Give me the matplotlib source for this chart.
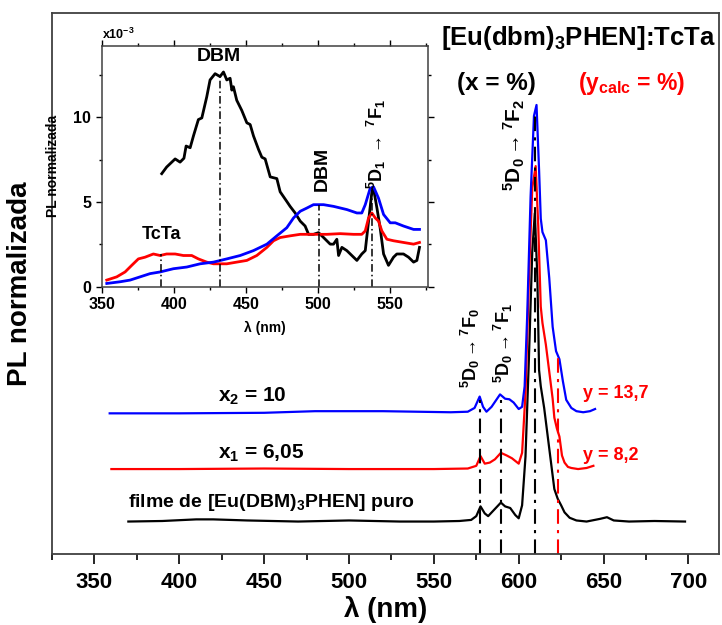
import numpy as np
import matplotlib
matplotlib.use("Agg")
from matplotlib import pyplot as plt
from matplotlib.ticker import MultipleLocator, NullLocator

plt.rcParams['font.family'] = ['Liberation Sans', 'DejaVu Sans']
plt.rcParams['font.weight'] = 'bold'
plt.rcParams['mathtext.fontset'] = 'custom'
plt.rcParams['mathtext.rm'] = 'Liberation Sans:bold'
plt.rcParams['mathtext.it'] = 'Liberation Sans:bold'
plt.rcParams['mathtext.bf'] = 'Liberation Sans:bold'
plt.rcParams['mathtext.default'] = 'rm'

# ---- main spectra (normalized, relative to each baseline) ----
wl_puro = [370, 390, 410, 420, 440, 470, 500, 530, 550, 565, 572, 575, 577.5, 580,
           582, 585, 589.5, 592, 595, 598, 600, 602, 604, 606, 608, 609.5, 611, 612,
           613, 615, 617, 619, 621, 623, 625, 627, 630, 634, 640, 648, 652, 656,
           665, 680, 698]
pl_puro = [0.0, 0.01, 0.04, 0.04, 0.02, 0.0, 0.02, 0.0, 0.0, 0.01, 0.03, 0.1, 0.28, 0.15,
           0.1, 0.2, 0.35, 0.28, 0.25, 0.12, 0.06, 0.3, 1.2, 3.0, 5.0, 5.7, 4.5, 2.8,
           2.5, 2.1, 1.6, 1.1, 0.6, 0.42, 0.3, 0.17, 0.07, 0.02, 0.0, 0.05, 0.08, 0.02,
           0.0, 0.01, 0.0]

wl_x1 = [360, 400, 450, 500, 550, 570, 575, 577.5, 580, 583, 586, 589.5, 593, 596,
         600, 602, 604, 606, 608, 610, 611.5, 613, 614, 616, 618, 620, 621, 622.5,
         624, 625.5, 627, 629, 631, 635, 640, 644]
pl_x1 = [0.0, 0.0, 0.01, 0.0, 0.0, 0.01, 0.06, 0.24, 0.1, 0.12, 0.18, 0.3, 0.25, 0.2,
         0.1, 0.3, 1.4, 3.5, 5.2, 5.6, 4.5, 3.0, 2.7, 2.3, 1.8, 1.3, 0.95, 0.75,
         0.6, 0.25, 0.12, 0.04, 0.02, 0.0, 0.02, 0.06]

wl_x2 = [359, 400, 450, 480, 520, 560, 570, 574, 577, 579, 581, 584, 589, 592, 594.5,
         597, 600, 602, 603.5, 605, 607, 609, 610.5, 612, 613, 614, 616, 618, 620,
         622, 624, 626, 628, 631, 634, 638, 642, 645]
pl_x2 = [0.0, 0.0, 0.01, 0.04, 0.04, 0.02, 0.03, 0.1, 0.31, 0.12, 0.03, 0.12, 0.35, 0.27,
         0.26, 0.2, 0.08, 0.12, 0.5, 1.8, 4.0, 5.5, 5.7, 4.5, 3.6, 3.35, 3.2, 2.5, 1.6,
         1.15, 1.0, 0.6, 0.25, 0.1, 0.04, 0.02, 0.04, 0.08]

offsets = [0.6, 1.57, 2.6]

# transition markers in the main panel: (wavelength, top, colour)
marks = [(577, 2.85, 'black'), (589.5, 2.85, 'black'),
         (609.5, 8.15, 'black'), (623, 3.7, 'red')]

# ---- inset spectra (x10^-3) ----
wl_in_k = [391.6, 395, 400.9, 404.3, 407, 408.5, 411.3, 413.6, 417, 419.4, 422.8, 425.1,
           428.6, 432, 434.4, 436.7, 439, 440.2, 441.3, 443.6, 447.1, 450.6, 452.9,
           455.2, 458.7, 461, 463.3, 466.8, 471.4, 473.7, 478.3, 480.6, 484.1, 487.6,
           491, 493.4, 496.8, 500.3, 503.8, 508.4, 510.7, 513, 514.2, 516.5, 519.9,
           523.4, 526.9, 530.3, 532.7, 535, 537.3, 538.4, 540.8, 543, 545.4, 548.8,
           552.3, 554.6, 559.2, 562.7, 566.2, 568.5, 570.3]
pl_in_k = [6.67, 7.06, 7.54, 7.35, 7.58, 8.3, 8.2, 8.9, 9.86, 9.96, 11.2, 12.2,
           12.57, 12.4, 12.67, 12.2, 12.3, 11.6, 11.8, 11.0, 10.4, 9.67, 9.57,
           8.9, 8.1, 7.64, 7.54, 6.48, 6.38, 5.6, 5.03, 4.74, 4.35, 3.87,
           3.58, 3.09, 3.09, 3.19, 2.9, 2.51, 2.51, 2.8, 1.84, 2.32, 2.13,
           1.84, 1.55, 1.93, 2.13, 3.87, 5.6, 5.8, 4.64, 3.48, 1.93, 1.26,
           1.74, 1.93, 1.93, 1.74, 1.45, 1.55, 2.32]

wl_in_r = [353.5, 360.4, 366.2, 370.8, 375.4, 380, 385.8, 390.5, 395, 400.9, 406.6,
           412.4, 417, 422.8, 427.5, 432.1, 436.7, 443.6, 450.6, 457.5, 464.5, 469.1,
           473.7, 480.6, 487.6, 496.8, 506.1, 515.3, 524.6, 530.3, 532.7, 535, 537.3,
           539.6, 541.9, 544.2, 547.7, 552.3, 559.2, 566.2, 570.3]
pl_in_r = [0.39, 0.58, 0.87, 1.26, 1.64, 1.74, 1.93, 1.84, 1.93, 1.93, 1.84,
           1.84, 1.64, 1.45, 1.35, 1.35, 1.35, 1.45, 1.55, 1.84, 2.32, 2.71,
           2.9, 3.0, 3.09, 3.09, 3.09, 3.13, 3.09, 3.09, 3.29, 4.06, 4.35,
           4.06, 3.87, 3.29, 2.8, 2.71, 2.61, 2.51, 2.61]

wl_in_b = [353.5, 362.7, 369.7, 376.6, 383.5, 390.5, 399.7, 409, 418.2, 427.5, 436.7,
           446, 455.2, 464.5, 471.4, 478.3, 483, 487.6, 492.2, 496.8, 503.8, 510.7,
           520, 526.9, 530.3, 532.7, 536.1, 538.4, 541.9, 545.4, 550, 553.5, 559.2,
           566.2, 570.3]
pl_in_b = [0.19, 0.29, 0.39, 0.58, 0.77, 0.87, 1.06, 1.16, 1.35, 1.45, 1.64,
           1.84, 2.13, 2.51, 3.0, 3.48, 4.06, 4.45, 4.64, 4.84, 4.84, 4.74,
           4.55, 4.35, 4.35, 4.84, 5.8, 5.9, 5.22, 4.26, 3.77, 3.77, 3.58,
           3.38, 3.38]

inset_marks = [(391, 1.9), (432.3, 12.5), (500.7, 4.8), (537.5, 5.8)]

spine_clr = '#404040'
dashdot = (0, (7, 3, 1.5, 3))

fig = plt.figure(figsize=(7.22, 6.25), dpi=100)
ax = fig.add_axes([0.072, 0.1136, 0.9238, 0.8656])

for wl, pl, off, clr in [(wl_puro, pl_puro, offsets[0], 'black'),
                         (wl_x1, pl_x1, offsets[1], 'red'),
                         (wl_x2, pl_x2, offsets[2], 'blue')]:
    ax.plot(wl, np.array(pl) + off, color=clr, lw=1.6)

for xm, ytop, clr in marks:
    ax.plot([xm, xm], [0, ytop], color=clr, lw=1.5, linestyle=dashdot)

ax.set_xlim(325, 718)
ax.set_ylim(0, 10)
ax.xaxis.set_major_locator(MultipleLocator(50))
ax.xaxis.set_minor_locator(MultipleLocator(25))
ax.yaxis.set_major_locator(NullLocator())
ax.tick_params(axis='x', which='major', direction='out', length=7, width=1.2,
               labelsize=16, colors='black', pad=6)
ax.tick_params(axis='x', which='minor', direction='out', length=4, width=1.2)
for sp in ax.spines.values():
    sp.set_color(spine_clr)
    sp.set_linewidth(1.3)
for lab in ax.get_xticklabels():
    lab.set_fontweight('bold')
ax.set_xlabel('λ (nm)', fontsize=20, fontweight='bold', labelpad=2)
ax.set_ylabel('PL normalizada', fontsize=20, fontweight='bold', labelpad=14)

ax.text(554, 9.54, '[Eu(dbm)$_3$PHEN]:TcTa', fontsize=18.5, fontweight='bold',
        ha='left', va='center')
ax.text(586.8, 8.58, '(x = %)', fontsize=17.5, fontweight='bold', ha='center', va='baseline')
ax.text(666.8, 8.58, '(y$_{calc}$ = %)', fontsize=16.5, fontweight='bold', color='red',
        ha='center', va='baseline')
ax.text(597.4, 7.56, '$^5$D$_0$$\\rightarrow$$^7$F$_2$', fontsize=15, rotation=90,
        ha='center', va='center')
ax.text(571.5, 3.81, '$^5$D$_0$$\\rightarrow$$^7$F$_0$', fontsize=13, rotation=90,
        ha='center', va='center')
ax.text(590.9, 3.9, '$^5$D$_0$$\\rightarrow$$^7$F$_1$', fontsize=13, rotation=90,
        ha='center', va='center')
ax.text(422.6, 2.82, 'x$_2$ = 10', fontsize=15, fontweight='bold', va='baseline')
ax.text(422.6, 1.77, 'x$_1$ = 6,05', fontsize=15, fontweight='bold', va='baseline')
ax.text(369.7, 0.87, 'filme de [Eu(DBM)$_3$PHEN] puro', fontsize=14, fontweight='bold',
        va='baseline')
ax.text(638, 2.88, 'y = 13,7', fontsize=13, fontweight='bold', color='red', va='baseline')
ax.text(638, 1.74, 'y = 8,2', fontsize=13, fontweight='bold', color='red', va='baseline')

# ---- inset ----
axi = fig.add_axes([0.1409, 0.5413, 0.4515, 0.385])
axi.plot(wl_in_k, pl_in_k, color='black', lw=2)
axi.plot(wl_in_r, pl_in_r, color='red', lw=2)
axi.plot(wl_in_b, pl_in_b, color='blue', lw=2)
for xm, ytop in inset_marks:
    axi.plot([xm, xm], [0, ytop], color='black', lw=1.1, linestyle=(0, (5, 2, 1, 2)))

axi.set_xlim(350, 576)
axi.set_ylim(0, 14.2)
axi.xaxis.set_major_locator(MultipleLocator(50))
axi.xaxis.set_minor_locator(MultipleLocator(25))
axi.yaxis.set_major_locator(MultipleLocator(5))
axi.yaxis.set_minor_locator(MultipleLocator(2.5))
axi.tick_params(which='both', direction='out', top=True, right=True, width=1,
                labelsize=11.5)
axi.tick_params(which='major', length=4)
axi.tick_params(which='minor', length=2.5)
for sp in axi.spines.values():
    sp.set_color(spine_clr)
    sp.set_linewidth(1.1)
for lab in axi.get_xticklabels() + axi.get_yticklabels():
    lab.set_fontweight('bold')
axi.set_xlabel('λ (nm)', fontsize=10, fontweight='bold', labelpad=6)
axi.set_ylabel('PL normalizada', fontsize=10, fontweight='bold', labelpad=10)
axi.text(0, 1.015, 'x10$^{-3}$', transform=axi.transAxes, fontsize=9,
         fontweight='bold', ha='left', va='bottom')

axi.text(431.2, 13.6, 'DBM', fontsize=14, fontweight='bold', ha='center', va='center')
axi.text(503.2, 6.97, 'DBM', fontsize=14, fontweight='bold', rotation=90,
         ha='center', va='center')
axi.text(391.6, 3.06, 'TcTa', fontsize=13, fontweight='bold', ha='center', va='center')
axi.text(540.2, 8.45, '$^5$D$_1$ $\\rightarrow$ $^7$F$_1$', fontsize=13, rotation=90,
         ha='center', va='center')

fig.savefig('out.png', dpi=100)
